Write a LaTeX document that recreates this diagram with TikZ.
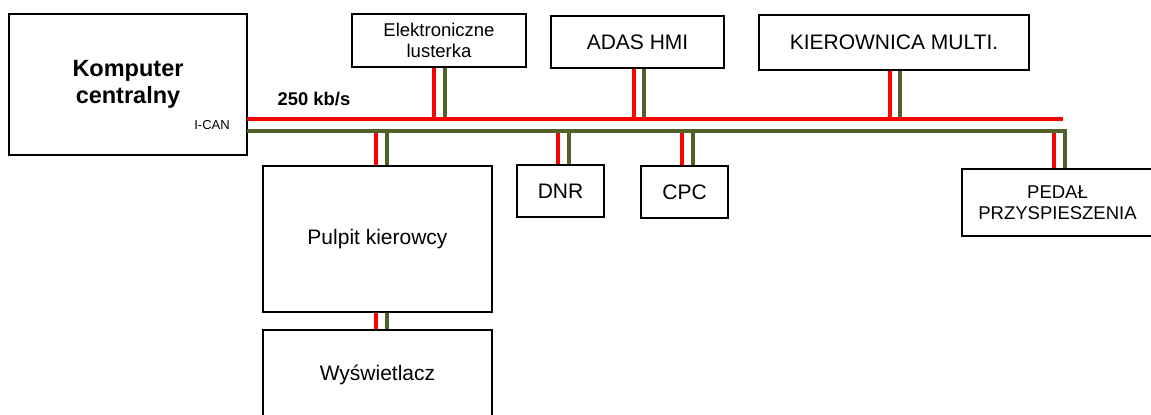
\documentclass[tikz,border=0pt]{standalone}
\usepackage{fontspec}
\setmainfont{Liberation Sans}
\definecolor{busgreen}{RGB}{79,98,40}
\tikzstyle{box} = [draw, line width=1pt, rectangle, align=center, inner sep=0pt]
\tikzstyle{smalltxt} = [font=\fontsize{9.25}{10.5}\selectfont]
\tikzstyle{redwire} = [draw=red, line width=1.75pt]
\tikzstyle{greenwire} = [draw=busgreen, line width=2pt]

\begin{document}
\begin{tikzpicture}[x=0.5pt, y=-0.5pt, font=\fontsize{10.5}{12}\selectfont]
\useasboundingbox (0,0) rectangle (1151,414);
\clip (0,0) rectangle (1151,414);
%begin komputer
\node[box, minimum width=119pt, minimum height=70.5pt,
      font=\bfseries\fontsize{11.75}{13.5}\selectfont] (komp) at (128,84) {Komputer\\centralny};
\node[font=\fontsize{6.5}{7.5}\selectfont] (ican) at (212,125) {I-CAN};
\node[font=\bfseries\fontsize{9.2}{11}\selectfont] (rate) at (314,99) {250 kb/s};
%end komputer
%begin bus ends
\coordinate (rA) at (247,119);
\coordinate (rB) at (1063,119);
\coordinate (gA) at (247,131);
\coordinate (gB) at (1065,131);
%end bus ends
%begin top row
\node[box, smalltxt, minimum width=87pt, minimum height=26.5pt] (lust) at (439,40.5) {Elektroniczne\\lusterka};
\node[box, minimum width=86.5pt, minimum height=26pt] (adas) at (637.5,42) {ADAS HMI};
\node[box, minimum width=135pt, minimum height=27.5pt] (kier) at (894,42.5) {KIEROWNICA MULTI.};
\foreach \n/\r/\g in {lust/-2.5pt/3pt, adas/-1.75pt/3.25pt, kier/-2pt/3pt}{
  \draw[redwire] ([xshift=\r]\n.south) -- ([xshift=\r]\n.south |- rA);
  \draw[greenwire] ([xshift=\g]\n.south) -- ([xshift=\g]\n.south |- rA);
}
%end top row
%begin bottom row
\node[box, minimum width=114.5pt, minimum height=73pt] (pulp) at (377.5,239) {Pulpit kierowcy};
\node[box, minimum width=114.5pt, minimum height=45pt] (wysw) at (377.5,375) {Wyświetlacz};
\node[box, minimum width=43.5pt, minimum height=26pt] (dnr) at (560.5,191) {DNR};
\node[box, minimum width=43.5pt, minimum height=26pt] (cpc) at (684.5,192) {CPC};
\node[box, smalltxt, minimum width=95.5pt, minimum height=33.5pt] (pedal) at (1057.5,202.5) {PEDAŁ\\PRZYSPIESZENIA};
\foreach \n/\r/\g in {pulp/-0.75pt/4.75pt, dnr/-1.25pt/4.25pt, cpc/-1.25pt/4.25pt}{
  \draw[redwire] ([xshift=\r]\n.north) -- ([xshift=\r]\n.north |- gA);
  \draw[greenwire] ([xshift=\g]\n.north) -- ([xshift=\g]\n.north |- gA);
}
\draw[redwire] ([xshift=-0.75pt]pulp.south) -- ([xshift=-0.75pt]wysw.north);
\draw[greenwire] ([xshift=4.75pt]pulp.south) -- ([xshift=4.75pt]wysw.north);
\draw[redwire] ([xshift=-5.5pt]gB) -- ([xshift=-5.5pt]gB |- pedal.north);
%end bottom row
%begin bus
\draw[redwire] (rA) -- (rB);
\draw[greenwire] (gA) -- (gB) -- (gB |- pedal.north);
%end bus
\end{tikzpicture}
\end{document}
